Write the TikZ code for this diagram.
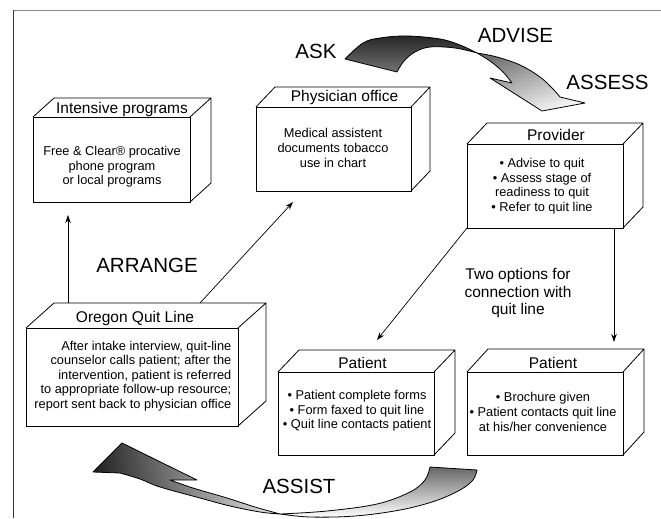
\documentclass[tikz,border=0pt]{standalone}
\usepackage{fontspec}
\setmainfont{Liberation Sans}
\usetikzlibrary{arrows.meta,calc}
\tikzset{
  boxline/.style={draw=black, line width=0.8pt, line join=miter},
  boxfront/.style={boxline, fill=white, inner sep=0pt, outer sep=0pt},
  ttl/.style={font=\fontsize{15.5}{17.7}\selectfont, inner sep=0pt, anchor=base},
  bodytxt/.style={font=\fontsize{12.8}{14.6}\selectfont, inner sep=0pt, align=center},
  bigl/.style={font=\fontsize{20.5}{24}\selectfont, inner sep=0pt},
  arr/.style={draw=black, line width=0.7pt, -{Stealth[length=8pt,width=5.5pt]}},
  band/.style={draw=black, line width=0.8pt, line join=round},
}
% name, x1, y1, x2, y2, dx, dy
\newcommand\cuboid[7]{%
  \node[boxfront, anchor=north west, minimum width={(#4)-(#2)}, minimum height={(#5)-(#3)}] (#1) at (#2,#3) {};
  \draw[boxline] (#1.north west) -- ++(#6,-#7) -- ++({(#4)-(#2)},0) -- ++(0,{(#5)-(#3)}) -- (#1.south east)
                 (#1.north east) -- ++(#6,-#7);
}
\begin{document}
\begin{tikzpicture}[x=1pt,y=-1pt]
\useasboundingbox (0,0) rectangle (661,519);
% frame
\draw[black!45, line width=1.6pt] (13,10.5) -- (661,10.5);
\draw[black!80, line width=1.3pt] (13.5,10) -- (13.5,518);

% boxes
\cuboid{ip}{33}{117}{190}{202}{21}{19}
\cuboid{po}{256}{107}{411}{191}{19}{20}
\cuboid{pr}{467}{144}{623}{228}{20}{21}
\cuboid{oq}{26}{328}{238}{426}{28}{25}
\cuboid{pa}{278}{372}{434}{455}{21}{22}
\cuboid{pb}{467}{372}{623}{455}{21}{23}

% titles
\node[ttl] (ipt) at (122,113) {Intensive programs};
\node[ttl] (pot) at (344.5,101) {Physician office};
\node[ttl] (prt) at (556,140) {Provider};
\node[ttl] (oqt) at (135,322.5) {Oregon Quit Line};
\node[ttl] (pat) at (362.5,368) {Patient};
\node[ttl] (pbt) at (553,368) {Patient};

% bodies
\node[bodytxt] (ipb) at (112,167) {Free \& Clear® procative\\phone program\\or local programs};
\node[bodytxt] (pob) at (333,148) {Medical assistent\\documents tobacco\\use in chart};
\node[bodytxt] (prb) at (542,186) {• Advise to quit\\• Assess stage of\\readiness to quit\\• Refer to quit line};
\node[bodytxt, align=right, anchor=east] (oqb) at (231.5,376) {After intake interview, quit-line\\counselor calls patient; after the\\intervention, patient is referred\\to appropriate follow-up resource;\\report sent back to physician office};
\node[bodytxt] (pab) at (357,411) {• Patient complete forms\\• Form faxed to quit line\\• Quit line contacts patient};
\node[bodytxt] (pbb) at (543,412) {• Brochure given\\• Patient contacts quit line\\at his/her convenience};

\node[font=\fontsize{15.5}{17.7}\selectfont, inner sep=0pt, align=center] (two) at (518,293) {Two options for\\connection with\\quit line};

% big labels
\node[bigl] (ask) at (316,51.5) {ASK};
\node[bigl] (advise) at (515.5,35.5) {ADVISE};
\node[bigl] (assess) at (607.5,82.5) {ASSESS};
\node[bigl] (arrange) at (147,265.5) {ARRANGE};
\node[bigl] (assist) at (299,486.5) {ASSIST};

% connectors
\coordinate (c1) at ($(oq.north west)+(42,-25)$);
\draw[arr] (c1) -- ($(ip.south west)+(35,13)$);
\coordinate (c2) at ($(oq.north west)+(174,-25)$);
\draw[arr] (c2) -- ($(po.south west)+(37,11)$);
\draw[arr] (pr.south west) -- ($(pa.north west)+(99,-32)$);
\coordinate (c3) at ($(pr.south west)+(147,0)$);
\draw[arr] (c3) -- ($(pb.north west)+(147,-30)$);

% top curved arrow (ASK -> ASSESS)
\shade[band, top color=black!85, bottom color=black!55]
  plot[smooth, tension=0.6] coordinates {(345,59) (363,43) (380,38) (407,36) (440,39) (460,45) (477,53)}
  -- plot[smooth, tension=0.6] coordinates {(477,53) (455,48) (430,47) (415,52) (404,61) (397,72)}
  -- cycle;
\shade[band, top color=black!55, bottom color=black!3, shading angle=20]
  plot[smooth, tension=0.6] coordinates {(477,53) (497,57) (520,65) (540,77) (553,89) (560,97)}
  -- (585,103) -- (542,111) -- (490,78) -- (512,83)
  -- plot[smooth, tension=0.6] coordinates {(512,83) (503,72) (490,61) (477,53)}
  -- cycle;

% bottom curved arrow (-> Oregon Quit Line)
\shade[band, top color=black!60, bottom color=white]
  (430,467) -- (477,470)
  -- plot[smooth, tension=0.6] coordinates {(477,470) (473,480) (460,490) (435,501) (400,510) (355,516) (310,517) (280,514)}
  -- plot[smooth, tension=0.6] coordinates {(280,514) (327,511) (377,504) (410,492) (425,480) (430,467)}
  -- cycle;
\shade[band, left color=black!85, right color=black!10, shading angle=100]
  plot[smooth, tension=0.6] coordinates {(280,514) (260,512) (230,506) (200,498) (160,487) (140,479) (120,473)}
  -- (93,472) -- (122,443) -- (197,480) -- (170,480)
  -- plot[smooth, tension=0.6] coordinates {(170,480) (193,488) (227,498) (255,507) (280,514)}
  -- cycle;
\end{tikzpicture}
\end{document}
